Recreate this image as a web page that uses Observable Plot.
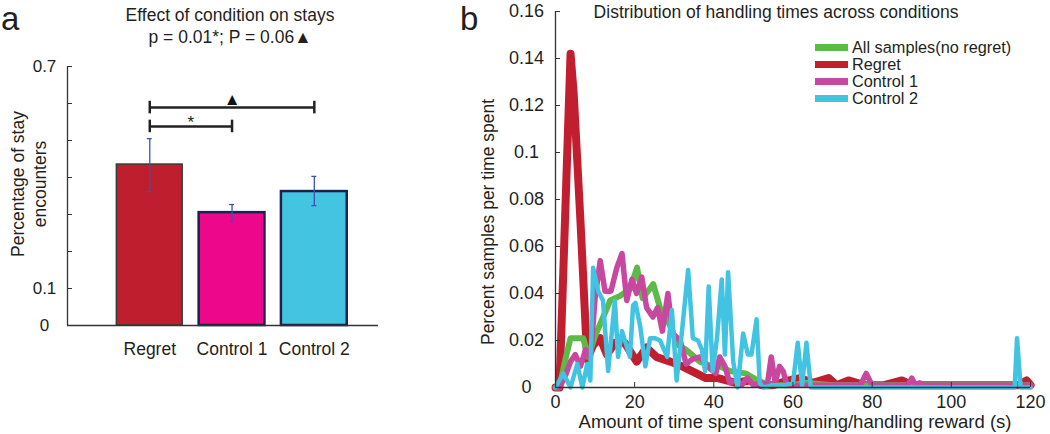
<!DOCTYPE html>
<html><head><meta charset="utf-8">
<script src="https://cdn.jsdelivr.net/npm/d3@7"></script>
<script src="https://cdn.jsdelivr.net/npm/@observablehq/plot@0.6"></script>
<style>
body{margin:0;background:#fff;}
#root{position:relative;width:1050px;height:434px;overflow:hidden;font-family:Arial,"Liberation Sans",sans-serif;color:#231f20;}
.abs{position:absolute;white-space:nowrap;}
.sw{position:absolute;width:33px;height:7px;}
</style></head><body><div id="root"></div>
<script>
// ---------- Panel a data ----------
const catsA = ["Regret", "Control 1", "Control 2"];
const staysA = [0.435, 0.305, 0.362];
const errLoA = [0.362, 0.281, 0.324];
const errHiA = [0.505, 0.327, 0.403];
const fillsA = ["#be1e2d", "#ec078b", "#43c5e1"];
const edgesA = ["#3a3a3a", "#1c2150", "#1c2150"];
const yTicksA = [0, 0.1, 0.2, 0.3, 0.4, 0.5, 0.6, 0.7];
const yLabelsA = ["0", "0.1", "", "", "", "", "", "0.7"];
const sigFrom = [1, 1];
const sigTo = [2, 3];
const sigLevel = [0.538, 0.589];
const sigMark = ["*", "▲"];

// ---------- Panel b data ----------
const seriesNames = ["All samples(no regret)", "Regret", "Control 1", "Control 2"];
const seriesColors = ["#5dba47", "#c11f30", "#c8479f", "#42c3e2"];
const tAll = [0, 1, 2.5, 3.8, 7, 8.3, 10, 11.3, 13.8, 16.3, 18.9, 20.6, 22, 24.7, 26.4, 28, 29.5, 31, 33, 36.5, 39.5, 41.5, 44, 48, 51, 54, 60, 63, 70, 80, 90, 100, 110, 117, 120];
const vAll = [0, 0, 0.012, 0.021, 0.021, 0.013, 0.022, 0.027, 0.037, 0.039, 0.042, 0.051, 0.038, 0.044, 0.034, 0.03, 0.024, 0.018, 0.016, 0.011, 0.009, 0.009, 0.007, 0.006, 0.003, 0.001, 0.001, 0.002, 0.001, 0.001, 0.001, 0.001, 0.001, 0.001, 0.001];
const tReg = [0, 1, 3.8, 4.6, 6.3, 8, 9.5, 11.3, 13, 15, 17.5, 19, 20.5, 23, 25.5, 29, 32, 35.6, 38, 41, 45.6, 49, 52, 55, 59, 61.7, 65, 69, 71, 74, 78, 83, 87.5, 90, 100, 110, 117, 119, 120];
const vReg = [0, 0, 0.142, 0.125, 0.071, 0.012, 0.018, 0.021, 0.014, 0.019, 0.019, 0.015, 0.011, 0.017, 0.013, 0.011, 0.009, 0.006, 0.004, 0.004, 0.002, 0.003, 0.001, 0.001, 0.003, 0.004, 0.002, 0.004, 0.001, 0.003, 0.001, 0.001, 0.003, 0.001, 0.001, 0.001, 0.001, 0.003, 0.001];
const tC1 = [0, 1, 2.5, 3.8, 5, 6.3, 7.6, 8.8, 10, 11.3, 12.5, 14, 15.5, 16.8, 18, 19.3, 20.5, 21.8, 23, 24.6, 25.8, 27, 28.4, 29.6, 31.5, 33, 34.5, 36.5, 39, 40.5, 41.5, 42.8, 44, 45.6, 47, 48.5, 50, 52, 53.5, 54.5, 55.5, 56.6, 57.5, 58.5, 60, 77, 78.5, 80, 89, 90, 91, 92, 93, 100, 120];
const vC1 = [0, 0, 0.005, 0.011, 0.014, 0.009, 0.016, 0.012, 0.038, 0.054, 0.041, 0.041, 0.051, 0.057, 0.037, 0.046, 0.04, 0.047, 0.034, 0.03, 0.034, 0.024, 0.04, 0.023, 0.02, 0.01, 0.012, 0.013, 0.008, 0.006, 0.013, 0.009, 0.002, 0.003, 0.001, 0.004, 0.001, 0.002, 0.001, 0.013, 0.002, 0.009, 0.007, 0.001, 0.001, 0.001, 0.006, 0.001, 0.001, 0.004, 0.001, 0.002, 0.001, 0.001, 0.001];
const tC2 = [0, 2, 3.8, 5.5, 6.8, 8, 8.8, 9.5, 10.8, 12, 13.3, 15, 15.8, 16.8, 18.8, 19.6, 20.2, 21.4, 22.7, 23.9, 25.2, 26.4, 28.2, 29.4, 30.6, 31.9, 33.5, 34.7, 36, 37, 37.8, 38.7, 39.7, 40.8, 42, 42.8, 43.6, 44.9, 46, 47.4, 48.6, 49.5, 50.8, 51.6, 52.5, 55, 58, 60, 61.2, 62.3, 63.4, 64.5, 70, 116, 116.6, 117.5, 120];
const vC2 = [0, 0.006, 0, 0.01, 0, 0.01, 0.003, 0.051, 0.041, 0.037, 0.007, 0.037, 0.013, 0.024, 0.013, 0.035, 0.036, 0.026, 0.009, 0.021, 0.021, 0.02, 0.013, 0.033, 0.003, 0.023, 0.05, 0.021, 0.02, 0.016, 0.007, 0.043, 0.007, 0.021, 0.046, 0.014, 0.049, 0.011, 0, 0.023, 0.014, 0.014, 0.029, 0.002, 0, 0.001, 0.001, 0.002, 0.019, 0.001, 0.019, 0, 0, 0, 0.021, 0, 0];
const xTicksB = [0, 20, 40, 60, 80, 100, 120];
const yTicksB = [0, 0.02, 0.04, 0.06, 0.08, 0.1, 0.12, 0.14, 0.16];
const yLabelsB = ["0", "0.02", "0.04", "0.06", "0.08", "0.1", "0.12", "0.14", "0.16"];
const strokeWidthsB = [6, 8, 5.5, 4.5];

// ---------- build ----------
const FONT = "Arial, 'Liberation Sans', sans-serif";
const INK = "#231f20";
const root = document.getElementById("root");

const bars = catsA.map((c, i) => ({cat: c, pos: i + 1, v: staysA[i], lo: errLoA[i], hi: errHiA[i], fill: fillsA[i], edge: edgesA[i]}));
const sig = sigFrom.map((f, i) => ({from: f, to: sigTo[i], y: sigLevel[i], mark: sigMark[i]}));
const capHalf = 0.03, sigTick = 0.017;

const plotA = Plot.plot({
  width: 390, height: 434,
  marginLeft: 67, marginRight: 12, marginTop: 66, marginBottom: 109,
  style: {fontFamily: FONT, fontSize: "17.5px", color: INK, background: "transparent", overflow: "visible"},
  x: {domain: [0, 3.78]},
  y: {domain: [0, 0.7]},
  marks: [
    Plot.rectY(bars, {x1: d => d.pos - 0.4, x2: d => d.pos + 0.4, y: "v", fill: "fill", stroke: "edge", strokeWidth: d => (d.pos === 1 ? 1.5 : 2.5)}),
    Plot.ruleX(bars, {x: "pos", y1: "lo", y2: "hi", stroke: "#3b52b4", strokeWidth: 1.3}),
    Plot.ruleY(bars, {y: "lo", x1: d => d.pos - capHalf, x2: d => d.pos + capHalf, stroke: "#3b52b4", strokeWidth: 1.3}),
    Plot.ruleY(bars, {y: "hi", x1: d => d.pos - capHalf, x2: d => d.pos + capHalf, stroke: "#3b52b4", strokeWidth: 1.3}),
    Plot.ruleY(sig, {y: "y", x1: "from", x2: "to", stroke: "#222", strokeWidth: 2.5}),
    Plot.ruleX(sig, {x: "from", y1: d => d.y - sigTick, y2: d => d.y + sigTick, stroke: "#222", strokeWidth: 2.5}),
    Plot.ruleX(sig, {x: "to", y1: d => d.y - sigTick, y2: d => d.y + sigTick, stroke: "#222", strokeWidth: 2.5}),
    Plot.text(sig.filter(d => d.mark === "*"), {x: d => (d.from + d.to) / 2, y: "y", text: "mark", lineAnchor: "bottom", dy: 2, fill: INK, fontSize: 17}),
    Plot.text(sig.filter(d => d.mark !== "*"), {x: d => (d.from + d.to) / 2, y: "y", text: "mark", lineAnchor: "bottom", dy: -3, fill: "#111", fontSize: 17}),
    Plot.ruleX([0], {stroke: "#333", strokeWidth: 1.3}),
    Plot.ruleY([0], {stroke: "#333", strokeWidth: 1.3}),
    Plot.axisY({ticks: yTicksA, tickFormat: d => yLabelsA[yTicksA.indexOf(d)], tickSize: -5, tickPadding: 28, textAnchor: "middle", stroke: "#333", label: null, fontSize: 17}),
    Plot.axisX({ticks: [1, 2, 3], tickFormat: d => catsA[d - 1], tickSize: 0, tickPadding: 17, label: null})
  ]
});

const lineData = [
  {t: tAll, v: vAll}, {t: tReg, v: vReg}, {t: tC1, v: vC1}, {t: tC2, v: vC2}
].map((s, k) => s.t.map((t, i) => ({t, v: s.v[i], k})));

const plotB = Plot.plot({
  width: 600, height: 434,
  marginLeft: 115, marginRight: 10, marginTop: 11, marginBottom: 47,
  style: {fontFamily: FONT, fontSize: "18px", color: INK, background: "transparent", overflow: "visible"},
  x: {domain: [0, 120]},
  y: {domain: [0, 0.16]},
  marks: [
    ...[1, 0, 2, 3].map(k => Plot.line(lineData[k], {x: "t", y: "v", stroke: seriesColors[k], strokeWidth: strokeWidthsB[k], strokeLinejoin: "round", strokeLinecap: "round"})),
    Plot.ruleX([0], {stroke: "#333", strokeWidth: 1.3}),
    Plot.ruleY([0], {stroke: "#333", strokeWidth: 1.3}),
    Plot.axisY({ticks: yTicksB, tickFormat: d => yLabelsB[yTicksB.indexOf(d)], tickSize: -5, tickPadding: 34, textAnchor: "middle", stroke: "#333", label: null}),
    Plot.axisX({ticks: xTicksB, tickSize: -5, tickPadding: 13, stroke: "#333", label: null})
  ]
});

plotA.style.position = "absolute"; plotA.style.left = "0px"; plotA.style.top = "0px";
plotB.style.position = "absolute"; plotB.style.left = "440px"; plotB.style.top = "0px";
root.appendChild(plotA);
root.appendChild(plotB);

function addText(html, css) {
  const d = document.createElement("div");
  d.className = "abs";
  d.innerHTML = html;
  Object.assign(d.style, css);
  root.appendChild(d);
  return d;
}
// panel letters
addText("a", {left: "1px", top: "0px", fontSize: "33px", lineHeight: "37px"});
addText("b", {left: "460px", top: "0px", fontSize: "33px", lineHeight: "37px"});
// panel a title
addText("Effect of condition on stays<br>p = 0.01*; P = 0.06▲", {left: "0px", width: "460px", top: "4px", fontSize: "17.5px", lineHeight: "22px", textAlign: "center"});
// panel a y label
addText("Percentage of stay<br>encounters", {left: "29px", top: "184px", fontSize: "17.5px", lineHeight: "22px", textAlign: "center", transform: "translate(-50%,-50%) rotate(-90deg)"});
// panel b title
addText("Distribution of handling times across conditions", {left: "776px", top: "2px", fontSize: "17.5px", lineHeight: "20px", transform: "translateX(-50%)"});
// panel b y label
addText("Percent samples per time spent", {left: "488px", top: "222px", fontSize: "17.5px", lineHeight: "20px", transform: "translate(-50%,-50%) rotate(-90deg)"});
// panel b x label
addText("Amount of time spent consuming/handling reward (s)", {left: "795px", top: "413px", fontSize: "18.5px", lineHeight: "18px", transform: "translateX(-50%)"});
// legend
const legRows = [47, 64, 81, 98];
seriesNames.forEach((n, i) => {
  const sw = document.createElement("div");
  sw.className = "sw";
  Object.assign(sw.style, {left: "815px", top: (legRows[i] - 3.5) + "px", background: seriesColors[i]});
  root.appendChild(sw);
  addText(n, {left: "852px", top: (legRows[i] - 10) + "px", fontSize: "16.3px", lineHeight: "20px"});
});
</script></body></html>
